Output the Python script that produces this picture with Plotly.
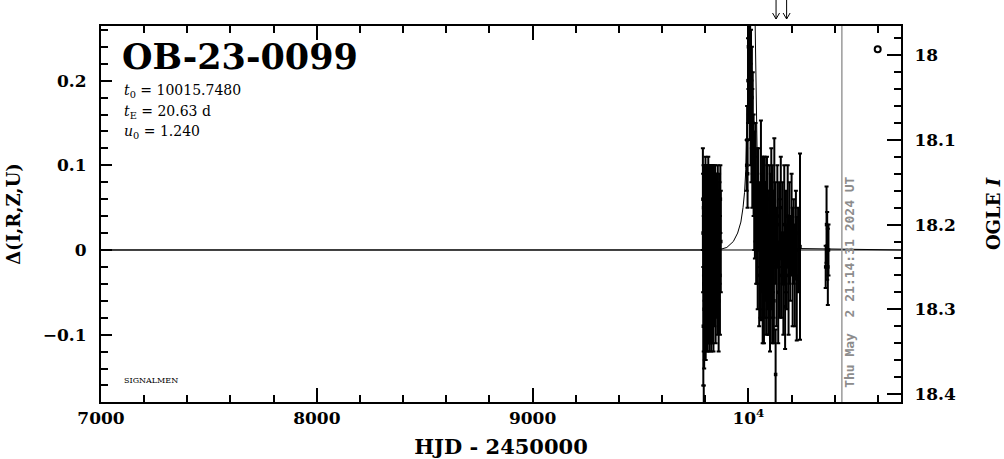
import plotly.graph_objects as go

# ---------------- data ----------------
event_name = "OB-23-0099"
t0_text = "10015.7480"
tE_text = "20.63"
u0_text = "1.240"
base_mag = 18.23
date_line_hjd = 10433.0
date_text = "Thu May\u00a0 2 21:14:31 2024 UT"
arrow_hjd = [10128, 10177]

# OGLE I photometry, as Delta mag (positive = brighter); season 1
obs_t_a = [9789, 9790, 9791, 9792, 9793, 9794, 9795, 9796, 9797, 9798,
           9799, 9800, 9801, 9802, 9803, 9804, 9805, 9806, 9807, 9808,
           9809, 9810, 9811, 9812, 9813, 9814, 9815, 9816, 9817, 9818,
           9819, 9820, 9821, 9822, 9823, 9824, 9825, 9826, 9827, 9828,
           9829, 9830, 9831, 9832, 9833, 9834, 9835, 9836, 9837, 9838,
           9840, 9842, 9844, 9846, 9848, 9850, 9852, 9854, 9856, 9858,
           9860, 9862, 9864, 9866, 9868, 9870, 9872, 9793]
obs_d_a = [0.06, 0.02, -0.09, 0.05, -0.04, 0.03, -0.07, 0.05, 0.00, -0.05,
           0.05, -0.02, 0.06, -0.07, 0.04, -0.03, 0.05, 0.01, -0.06, 0.04,
           -0.01, 0.03, -0.06, 0.05, -0.04, 0.06, 0.00, -0.05, 0.04, -0.02,
           0.04, -0.06, 0.05, 0.02, -0.05, 0.04, -0.03, 0.05, -0.01, -0.06,
           0.05, 0.03, -0.04, 0.05, -0.05, 0.01, 0.04, -0.02, 0.04, -0.05,
           0.05, -0.03, 0.02, 0.05, -0.05, 0.03, -0.01, 0.04, -0.04, 0.05,
           0.00, -0.06, 0.04, 0.02, -0.03, 0.06, 0.01, -0.19]
obs_e_a = [0.06, 0.07, 0.07, 0.05, 0.08, 0.06, 0.07, 0.05, 0.06, 0.08,
           0.05, 0.07, 0.05, 0.06, 0.06, 0.07, 0.05, 0.06, 0.06, 0.05,
           0.07, 0.06, 0.06, 0.05, 0.07, 0.05, 0.08, 0.06, 0.05, 0.07,
           0.06, 0.06, 0.05, 0.07, 0.06, 0.05, 0.07, 0.05, 0.05, 0.06,
           0.05, 0.06, 0.07, 0.05, 0.06, 0.07, 0.05, 0.06, 0.06, 0.07,
           0.05, 0.06, 0.07, 0.05, 0.06, 0.06, 0.07, 0.05, 0.06, 0.05,
           0.07, 0.06, 0.05, 0.06, 0.07, 0.04, 0.06, 0.03]

# season 2 (peak and decline)
obs_t_b = [9992, 9994, 9996, 9998, 10000, 10002, 10004, 10006, 10008, 10010,
           10012, 10014, 10016, 10018, 10020, 10024, 10027, 10030, 10033, 10036,
           10040, 10043, 10046, 10050, 10053, 10056, 10058,
           10062, 10064, 10066, 10068, 10070, 10072, 10074, 10076, 10078, 10080,
           10082, 10084, 10086, 10088, 10090, 10092, 10094, 10096, 10098, 10100,
           10102, 10104, 10106, 10108, 10110, 10112, 10114, 10116, 10118, 10120,
           10124, 10126, 10130, 10134, 10138, 10142, 10146, 10150, 10154, 10158,
           10162, 10166, 10170, 10174, 10178, 10182, 10186, 10190, 10194, 10197,
           10200, 10205, 10210, 10215, 10220, 10224, 10230, 10239]
obs_d_b = [0.10, 0.13, 0.09, 0.20, 0.24, 0.22, 0.25, 0.19, 0.23, 0.16,
           0.21, 0.14, 0.18, 0.12, 0.15, 0.10, 0.07, 0.05, 0.08, 0.02,
           0.04, 0.00, 0.06, -0.03, 0.03, -0.01, 0.035,
           0.02, 0.05, -0.03, 0.00, 0.05, -0.05, -0.01, 0.06, 0.03, 0.01,
           -0.04, -0.02, 0.06, 0.04, 0.00, -0.03, -0.05, 0.02, 0.04, -0.06,
           -0.02, 0.03, 0.07, 0.00, -0.04, 0.05, 0.01, -0.02, -0.06, 0.058,
           0.02, -0.147, -0.02, 0.04, -0.05, 0.03, -0.01, 0.05, -0.03, 0.02,
           -0.04, 0.03, -0.067, 0.01, -0.02, 0.04, -0.03, 0.02, -0.01, -0.22,
           0.03, -0.02, 0.01, -0.03, 0.02, -0.034, 0.00, 0.004]
obs_e_b = [0.03, 0.04, 0.04, 0.05, 0.05, 0.06, 0.05, 0.06, 0.05, 0.06,
           0.05, 0.06, 0.06, 0.07, 0.06, 0.06, 0.07, 0.06, 0.07, 0.06,
           0.08, 0.07, 0.06, 0.06, 0.05, 0.07, 0.118,
           0.07, 0.06, 0.08, 0.07, 0.06, 0.06, 0.07, 0.05, 0.05, 0.07,
           0.06, 0.06, 0.05, 0.06, 0.07, 0.07, 0.05, 0.05, 0.06, 0.06,
           0.06, 0.06, 0.05, 0.07, 0.07, 0.05, 0.06, 0.06, 0.05, 0.074,
           0.06, 0.053, 0.07, 0.06, 0.06, 0.05, 0.07, 0.06, 0.05, 0.06,
           0.06, 0.07, 0.05, 0.06, 0.05, 0.06, 0.07, 0.06, 0.05, 0.03,
           0.06, 0.07, 0.05, 0.06, 0.05, 0.073, 0.05, 0.11]

# season 3
obs_t_c = [10358, 10362, 10365, 10368, 10371]
obs_d_c = [-0.02, 0.03, 0.005, -0.02, 0.00]
obs_e_c = [0.025, 0.045, 0.04, 0.045, 0.03]

# model light curve
model_t = [7000, 9860, 9900, 9930, 9950, 9965, 9975, 9982, 9988, 9992, 9995, 9998,
           10000, 10015.75, 10031, 10034, 10037, 10040, 10044, 10050, 10058, 10070,
           10090, 10120, 10160, 10707]
model_d = [0.0, 0.0, 0.003, 0.010, 0.020, 0.033, 0.050, 0.068, 0.095, 0.125, 0.16,
           0.22, 0.27, 0.60, 0.27, 0.20, 0.15, 0.12, 0.09, 0.065, 0.045, 0.028,
           0.015, 0.007, 0.002, 0.0]

# OGLE symbol key
key_t = [10599]
key_d = [0.237]

x_range = [7000, 10707]
y_range = [-0.1795, 0.2645]
x_tickvals = [7000, 8000, 9000, 10000]
x_ticktext = ["7000", "8000", "9000", "10<sup>4</sup>"]
mag_tickvals = [18.0, 18.1, 18.2, 18.3, 18.4]
mag_ticktext = ["18", "18.1", "18.2", "18.3", "18.4"]

# ---------------- figure ----------------
SERIF = "DejaVu Serif"
fig = go.Figure()

fig.add_trace(go.Scatter(
    x=x_range, y=[0, 0], mode="lines",
    line=dict(color="black", width=1), hoverinfo="skip", showlegend=False))

fig.add_trace(go.Scatter(
    x=model_t, y=model_d, mode="lines",
    line=dict(color="black", width=1), showlegend=False))

obs_t = obs_t_a + obs_t_b + obs_t_c
obs_d = obs_d_a + obs_d_b + obs_d_c
obs_e = obs_e_a + obs_e_b + obs_e_c
fig.add_trace(go.Scatter(
    x=obs_t, y=obs_d, mode="markers",
    marker=dict(symbol="square", size=3.5, color="black"),
    error_y=dict(type="data", array=obs_e, visible=True, color="black",
                 thickness=2, width=2),
    showlegend=False, cliponaxis=True))

fig.add_trace(go.Scatter(
    x=key_t, y=key_d, mode="markers",
    marker=dict(symbol="circle-open", size=6, color="black", line=dict(width=2)),
    showlegend=False))

# dummy trace for right axis
fig.add_trace(go.Scatter(x=[None], y=[None], yaxis="y2", showlegend=False))

fig.add_shape(type="line", xref="x", yref="paper", x0=date_line_hjd, x1=date_line_hjd,
              y0=0, y1=1, line=dict(color="#9a9a9a", width=1.5))

# arrows above the frame (drawn as paths: shaft + open head)
PLOT_H = 376.0
PX_PER_DAY = 800.0 / (x_range[1] - x_range[0])
def py(ypx):
    return (402.0 - ypx) / PLOT_H
for a in arrow_hjd:
    dx = 3.5 / PX_PER_DAY
    path = (f"M {a},{py(0)} L {a},{py(19)} "
            f"M {a - dx},{py(13)} L {a},{py(19)} L {a + dx},{py(13)}")
    fig.add_shape(type="path", xref="x", yref="paper", path=path,
                  line=dict(color="black", width=1))

tickfont = dict(family=SERIF, size=17, color="black", weight="bold")
fig.update_layout(
    width=1004, height=459,
    margin=dict(l=101, r=103, t=26, b=57),
    paper_bgcolor="white", plot_bgcolor="white",
    xaxis=dict(range=x_range, tickvals=x_tickvals, ticktext=x_ticktext,
               automargin=False,
               ticks="inside", ticklen=14, tickwidth=1.5, tickcolor="black",
               minor=dict(dtick=200, tick0=7000, ticks="inside", ticklen=7,
                          tickwidth=1.5, tickcolor="black"),
               showline=True, linewidth=2, linecolor="black", mirror="ticks",
               showgrid=False, zeroline=False, tickfont=tickfont,
               title=dict(text="HJD - 2450000", standoff=12,
                          font=dict(family=SERIF, size=21, color="black", weight="bold"))),
    yaxis=dict(range=y_range, dtick=0.1, tick0=0, automargin=False,
               ticks="inside", ticklen=11, tickwidth=1.5, tickcolor="black",
               ticklabelstandoff=9,
               minor=dict(dtick=0.02, tick0=0, ticks="inside", ticklen=7,
                          tickwidth=1.5, tickcolor="black"),
               showline=True, linewidth=2, linecolor="black", mirror=False,
               showgrid=False, zeroline=False, tickfont=tickfont,
               title=dict(text="Δ(I,R,Z,U)", standoff=17,
                          font=dict(family=SERIF, size=18, color="black", weight="bold"))),
    yaxis2=dict(overlaying="y", side="right", automargin=False,
                range=[base_mag - y_range[0], base_mag - y_range[1]],
                tickvals=mag_tickvals, ticktext=mag_ticktext,
                ticks="inside", ticklen=14, tickwidth=1.5, tickcolor="black",
                ticklabelstandoff=8,
                minor=dict(dtick=0.02, tick0=18, ticks="inside", ticklen=7,
                           tickwidth=1.5, tickcolor="black"),
                showline=True, linewidth=2, linecolor="black",
                showgrid=False, zeroline=False, tickfont=tickfont,
                title=dict(text="OGLE <i>I</i>", standoff=33,
                           font=dict(family=SERIF, size=18, color="black", weight="bold"))),
)

# text annotations
fig.add_annotation(xref="paper", yref="paper", x=0.024, y=0.92, xanchor="left",
                   yanchor="middle", showarrow=False, text=event_name,
                   font=dict(family=SERIF, size=35, color="black", weight="bold"))
param_font = dict(family=SERIF, size=14, color="black")
for yy, txt in [(0.828, f"<i>t</i><sub>0</sub> = {t0_text}"),
                (0.772, f"<i>t</i><sub>E</sub> = {tE_text} d"),
                (0.718, f"<i>u</i><sub>0</sub> = {u0_text}")]:
    fig.add_annotation(xref="paper", yref="paper", x=0.026, y=yy, xanchor="left",
                       yanchor="middle", showarrow=False, text=txt, font=param_font)

fig.add_annotation(xref="paper", yref="paper", x=0.026, y=0.058, xanchor="left",
                   yanchor="middle", showarrow=False, text="SIGNALMEN",
                   font=dict(family=SERIF, size=8, color="black"))

fig.add_annotation(xref="x", yref="paper", x=date_line_hjd, y=py(390), xshift=-2,
                   xanchor="left", yanchor="bottom",
                   textangle=-90, showarrow=False, text=date_text,
                   font=dict(family="DejaVu Sans Mono", size=13, color="#8c8c8c",
                             weight="bold"))

fig.write_html("out.html", config={"displayModeBar": False},
               post_script="document.body.style.margin='0px';")
